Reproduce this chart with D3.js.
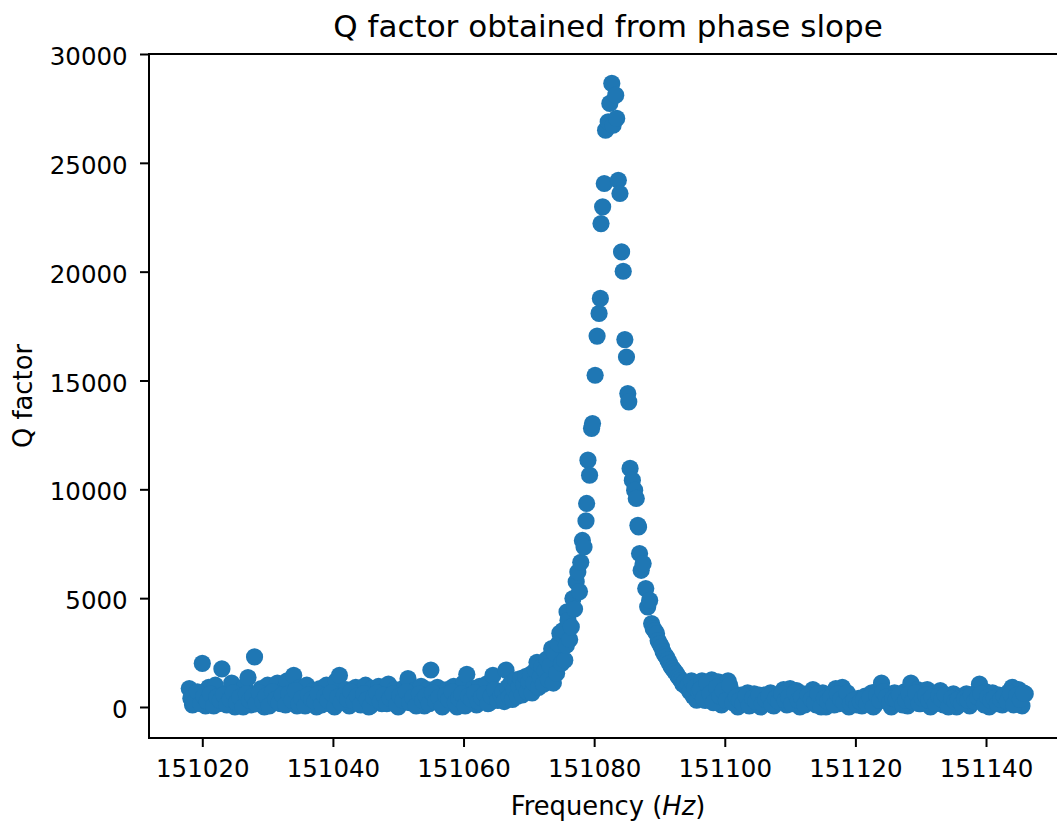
<!DOCTYPE html>
<html><head><meta charset="utf-8">
<script src="https://cdn.jsdelivr.net/npm/d3@7"></script>
<style>
body{margin:0;background:#fff}
svg{display:block}
text{font-family:"DejaVu Sans",sans-serif;fill:#000}
</style>
</head><body>
<svg id="chart" width="1057" height="821"></svg>
<script>
// ---------- data ----------
const freqLeft = [
151018,151018.5,151019,151019.5,151020,151020.5,151021,151021.5,151022,151022.5,
151023,151023.5,151024,151024.5,151025,151025.5,151026,151026.5,151027,151027.5,
151028,151028.5,151029,151029.5,151030,151030.5,151031,151031.5,151032,151032.5,
151033,151033.5,151034,151034.5,151035,151035.5,151036,151036.5,151037,151037.5,
151038,151038.5,151039,151039.5,151040,151040.5,151041,151041.5,151042,151042.5,
151043,151043.5,151044,151044.5,151045,151045.5,151046,151046.5,151047,151047.5,
151048,151048.5,151049,151049.5,151050,151050.5,151051,151051.5,151052,151052.5,
151053,151053.5,151054,151054.5,151055,151055.5,151056,151056.5,151057,151057.5,
151058,151058.5,151059,151059.5,151060,151060.5,151061,151061.5,151062,151062.5,
151063,151063.5,151064,151064.5,151065,151065.5];
const qLeft = [
850,100,600,300,2000,50,900,400,1000,150,
1750,600,200,1100,0,700,350,950,1350,100,
2300,500,850,0,1000,300,650,1100,150,800,
1200,400,1450,50,900,550,1000,200,750,0,
850,450,1000,150,700,1200,1450,300,800,50,
600,900,200,750,1000,0,850,400,950,150,
700,1050,300,800,0,650,900,1300,200,750,
500,950,50,800,1700,300,900,600,100,800,
450,950,0,750,1100,1500,300,850,100,950,
500,1050,200,1450,700,350];

const freqLeftMid = [
151018.25,151018.75,151019.25,151019.75,151020.25,151020.75,151021.25,151021.75,151022.25,151022.75,
151023.25,151023.75,151024.25,151024.75,151025.25,151025.75,151026.25,151026.75,151027.25,151027.75,
151028.25,151028.75,151029.25,151029.75,151030.25,151030.75,151031.25,151031.75,151032.25,151032.75,
151033.25,151033.75,151034.25,151034.75,151035.25,151035.75,151036.25,151036.75,151037.25,151037.75,
151038.25,151038.75,151039.25,151039.75,151040.25,151040.75,151041.25,151041.75,151042.25,151042.75,
151043.25,151043.75,151044.25,151044.75,151045.25,151045.75,151046.25,151046.75,151047.25,151047.75,
151048.25,151048.75,151049.25,151049.75,151050.25,151050.75,151051.25,151051.75,151052.25,151052.75,
151053.25,151053.75,151054.25,151054.75,151055.25,151055.75,151056.25,151056.75,151057.25,151057.75,
151058.25,151058.75,151059.25,151059.75,151060.25,151060.75,151061.25,151061.75,151062.25,151062.75,
151063.25,151063.75,151064.25,151064.75,151065.25,151065.75];
const qLeftMid = [
400,200,700,150,500,250,600,50,450,300,
550,100,350,650,200,450,0,600,300,500,
150,650,250,500,50,700,350,200,550,100,
600,300,750,150,400,50,550,350,250,600,
100,500,300,650,0,450,200,550,350,700,
250,500,100,600,350,50,450,650,250,550,
150,400,600,100,500,300,700,200,450,50,
600,300,500,150,650,250,450,0,550,350,
700,200,400,600,50,500,350,650,250,450,
600,150,500,800,300,550];

const freqPeak = [
151066,151066.25,151066.5,151066.75,151067,151067.25,151067.5,151067.75,151068,151068.25,
151068.5,151068.75,151069,151069.25,151069.5,151069.75,151070,151070.25,151070.5,151070.75,
151071,151071.25,151071.5,151071.75,151072,151072.25,151072.5,151072.75,151073,151073.25,
151073.5,151073.75,151074,151074.25,151074.5,151074.75,151075,151075.25,151075.5,151075.75,
151075.85,151076,151076.25,151076.5,151076.75,151077,151077.25,151077.5,151077.75,151077.95,
151078.2,151078.45,151078.75,151078.85,151079.05,151079.3,151079.6,151079.75,151080.15,151080.45,
151080.75,151080.95,151081.05,151081.3,151081.55,151081.75,151082.15,151082.4,151082.7,151082.9,
151083.3,151083.45,151083.7,151083.95,151084.2,151084.45,151084.7,151084.95,151085.15,151085.3,
151085.5,151085.85,151086.2,151086.45,151086.7,151086.8,151086.95,151087.2,151087.5,151087.9,
151088.2,151088.5,151088.8,151089.05,151089.3,151089.55,151089.8,151090.05,151090.3,151090.55,
151090.8,151091.05,151091.3,151091.55,151091.8,151092.05,151092.3,151092.6,151092.85,151093.1,
151093.35,151093.6,151093.85,151094.15,151094.4,151094.65,151094.9,151095.15,151095.4,151095.7];
const qPeak = [
700,250,1690,900,450,1100,350,800,1250,500,
950,1300,550,1050,1400,700,1150,1500,650,1100,
1700,2050,900,1400,1850,1050,1650,2200,1250,1900,
2680,1100,2450,1550,2900,3390,2000,3525,2150,2835,
4366,3985,3100,3680,4980,4500,5750,6200,5300,6650,
7650,7350,8550,9350,11340,10650,12800,13020,15240,17040,
18080,18770,22210,22980,24050,26500,26880,27730,28650,26730,
28110,27040,24200,23590,20910,20020,16880,16080,14400,14020,
10960,10420,9960,9580,8350,8270,7050,6280,6590,5440,
4600,4900,3830,3600,3500,3370,3050,2900,2760,2550,
2400,2300,2150,2000,1850,1750,1650,1540,1400,1300,
1200,1050,1150,920,1000,700,1200,500,900,310];

const freqRight = [
151096,151096.5,151097,151097.5,151098,151098.5,151099,151099.5,151100,151100.5,
151101,151101.5,151102,151102.5,151103,151103.5,151104,151104.5,151105,151105.5,
151106,151106.5,151107,151107.5,151108,151108.5,151109,151109.5,151110,151110.5,
151111,151111.5,151112,151112.5,151113,151113.5,151114,151114.5,151115,151115.5,
151116,151116.5,151117,151117.5,151118,151118.5,151119,151119.5,151120,151120.5,
151121,151121.5,151122,151122.5,151123,151123.5,151124,151124.5,151125,151125.5,
151126,151126.5,151127,151127.5,151128,151128.5,151129,151129.5,151130,151130.5,
151131,151131.5,151132,151132.5,151133,151133.5,151134,151134.5,151135,151135.5,
151136,151136.5,151137,151137.5,151138,151138.5,151139,151139.5,151140,151140.5,
151141,151141.5,151142,151142.5,151143,151143.5,151144,151144.5,151145,151145.5,
151146];
const qRight = [
700,1200,300,1000,1250,500,1150,100,900,1200,
400,600,0,550,250,650,100,600,350,0,
550,200,650,50,500,300,800,100,850,400,
750,0,600,250,500,800,100,450,650,0,
550,300,850,150,900,500,0,350,200,400,
50,500,250,650,100,750,1100,300,600,0,
650,200,450,700,50,1100,400,800,150,750,
800,0,600,300,750,100,550,250,600,0,
450,200,600,50,500,650,1050,300,700,0,
650,250,550,100,450,700,900,200,800,50,
600];

const freqRightMid = [
151096.25,151096.75,151097.25,151097.75,151098.25,151098.75,151099.25,151099.75,151100.25,151100.75,
151101.25,151101.75,151102.25,151102.75,151103.25,151103.75,151104.25,151104.75,151105.25,151105.75,
151106.25,151106.75,151107.25,151107.75,151108.25,151108.75,151109.25,151109.75,151110.25,151110.75,
151111.25,151111.75,151112.25,151112.75,151113.25,151113.75,151114.25,151114.75,151115.25,151115.75,
151116.25,151116.75,151117.25,151117.75,151118.25,151118.75,151119.25,151119.75,151120.25,151120.75,
151121.25,151121.75,151122.25,151122.75,151123.25,151123.75,151124.25,151124.75,151125.25,151125.75,
151126.25,151126.75,151127.25,151127.75,151128.25,151128.75,151129.25,151129.75,151130.25,151130.75,
151131.25,151131.75,151132.25,151132.75,151133.25,151133.75,151134.25,151134.75,151135.25,151135.75,
151136.25,151136.75,151137.25,151137.75,151138.25,151138.75,151139.25,151139.75,151140.25,151140.75,
151141.25,151141.75,151142.25,151142.75,151143.25,151143.75,151144.25,151144.75,151145.25,151145.75];
const qRightMid = [
800,400,1100,600,200,900,500,750,300,1000,
200,450,300,150,500,50,400,250,550,150,
350,500,100,400,250,600,300,450,150,650,
300,450,100,550,350,200,600,0,400,250,
450,100,600,350,200,650,150,300,100,250,
350,150,450,0,550,300,700,450,200,400,
350,550,100,300,600,250,650,150,400,550,
300,450,150,500,350,550,0,400,250,350,
150,400,300,550,250,450,600,100,450,300,
400,150,350,500,250,600,100,550,350,650];

const xTicks = [151020,151040,151060,151080,151100,151120,151140];
const yTicks = [0,5000,10000,15000,20000,25000,30000];
const xLimits = [151011.84,151152.4];
const yLimits = [-1425,30000];

const titleText = "Q factor obtained from phase slope";
const yLabelText = "Q factor";

// ---------- layout ----------
const svg = d3.select("#chart");
const plot = {left:149, right:1067, top:54, bottom:738};
const x = d3.scaleLinear().domain(xLimits).range([plot.left, plot.right]);
const y = d3.scaleLinear().domain(yLimits).range([plot.bottom, plot.top]);
const color = "#1f77b4";

const points = [];
[[freqLeft,qLeft],[freqLeftMid,qLeftMid],[freqPeak,qPeak],[freqRight,qRight],[freqRightMid,qRightMid]]
  .forEach(([fs,qs]) => { fs.forEach((f,i) => points.push({f:f, q:qs[i]})); });

svg.append("defs").append("clipPath").attr("id","clip")
  .append("rect").attr("x",plot.left).attr("y",plot.top)
  .attr("width",plot.right-plot.left).attr("height",plot.bottom-plot.top);

svg.append("g").attr("clip-path","url(#clip)")
  .selectAll("circle").data(points).join("circle")
  .attr("cx", d => x(d.f)).attr("cy", d => y(d.q))
  .attr("r", 8.6).attr("fill", color);

// frame (spines)
svg.append("rect").attr("x",plot.left).attr("y",plot.top)
  .attr("width",plot.right-plot.left).attr("height",plot.bottom-plot.top)
  .attr("fill","none").attr("stroke","#000").attr("stroke-width",2);

// axes
const gx = svg.append("g").attr("transform",`translate(0,${plot.bottom})`)
  .call(d3.axisBottom(x).tickValues(xTicks).tickSize(9).tickSizeOuter(0).tickFormat(d3.format("d")));
gx.attr("font-size",null).attr("font-family",null);
gx.select(".domain").remove();
gx.selectAll(".tick line").attr("stroke","#000").attr("stroke-width",2);
gx.selectAll(".tick text").attr("y",38.7).attr("dy",null).attr("fill","#000").style("font-size","24.5px");

const gy = svg.append("g").attr("transform",`translate(${plot.left},0)`)
  .call(d3.axisLeft(y).tickValues(yTicks).tickSize(9).tickSizeOuter(0).tickFormat(d3.format("d")));
gy.attr("font-size",null).attr("font-family",null);
gy.select(".domain").remove();
gy.selectAll(".tick line").attr("stroke","#000").attr("stroke-width",2);
gy.selectAll(".tick text").attr("x",-21.3).attr("dy","0.43em").attr("fill","#000").style("font-size","24.5px");

// title
svg.append("text").attr("x",(plot.left+plot.right)/2).attr("y",37)
  .attr("text-anchor","middle").style("font-size","31px").text(titleText);

// x label
const xl = svg.append("text").attr("x",(plot.left+plot.right)/2).attr("y",815)
  .attr("text-anchor","middle").style("font-size","25.8px");
xl.append("tspan").text("Frequency (");
xl.append("tspan").style("font-style","italic").text("Hz");
xl.append("tspan").text(")");

// y label
svg.append("text").attr("transform",`translate(32,${(plot.top+plot.bottom)/2}) rotate(-90)`)
  .attr("text-anchor","middle").style("font-size","25.8px").text(yLabelText);
</script>
</body></html>
